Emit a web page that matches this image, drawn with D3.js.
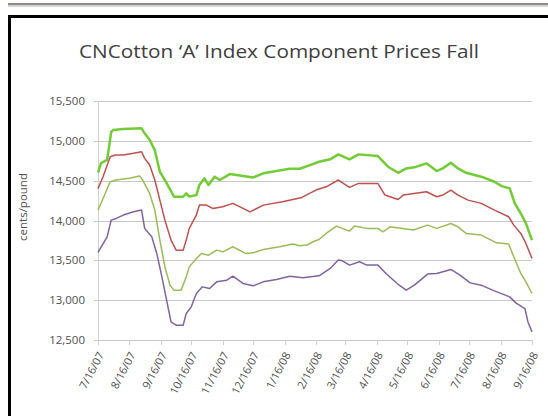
<!DOCTYPE html>
<html><head><meta charset="utf-8">
<script src="https://cdn.jsdelivr.net/npm/d3@7"></script>
<style>body{margin:0;background:#fff}svg{display:block}</style>
</head><body>
<svg id="c" width="548" height="416"></svg>
<script>
const title = "CNCotton \u2018A\u2019 Index Component Prices Fall";
const yTitle = "cents/pound";
const yTicks = [12500,13000,13500,14000,14500,15000,15500];
const xTickLabels = ["7/16/07","8/16/07","9/16/07","10/16/07","11/16/07","12/16/07","1/16/08","2/16/08","3/16/08","4/16/08","5/16/08","6/16/08","7/16/08","8/16/08","9/16/08"];

const seriesA = [["2007-07-16",14600],["2007-07-19",14720],["2007-07-25",14760],["2007-07-29",15110],["2007-07-31",15136],["2007-08-10",15150],["2007-08-28",15157],["2007-08-31",15094],["2007-09-05",15010],["2007-09-10",14884],["2007-09-15",14612],["2007-09-21",14486],["2007-09-29",14298],["2007-10-08",14298],["2007-10-11",14340],["2007-10-14",14300],["2007-10-21",14319],["2007-10-24",14445],["2007-10-29",14529],["2007-11-02",14445],["2007-11-08",14550],["2007-11-13",14508],["2007-11-23",14583],["2007-12-16",14541],["2007-12-26",14592],["2008-01-21",14650],["2008-01-31",14650],["2008-02-10",14696],["2008-02-19",14737],["2008-03-01",14768],["2008-03-09",14830],["2008-03-20",14768],["2008-03-29",14830],["2008-04-17",14809],["2008-04-27",14675],["2008-05-07",14599],["2008-05-15",14654],["2008-05-23",14667],["2008-06-04",14717],["2008-06-14",14620],["2008-06-20",14654],["2008-06-28",14725],["2008-07-05",14654],["2008-07-13",14599],["2008-07-28",14550],["2008-08-10",14486],["2008-08-17",14432],["2008-08-25",14403],["2008-08-30",14215],["2008-09-05",14088],["2008-09-10",13964],["2008-09-16",13754]];

const seriesB = [["2007-07-16",14400],["2007-07-21",14549],["2007-07-28",14800],["2007-08-02",14822],["2007-08-10",14822],["2007-08-20",14843],["2007-08-28",14863],["2007-08-31",14780],["2007-09-05",14696],["2007-09-10",14508],["2007-09-15",14256],["2007-09-20",14005],["2007-09-26",13754],["2007-10-01",13628],["2007-10-08",13628],["2007-10-11",13754],["2007-10-14",13901],["2007-10-21",14068],["2007-10-24",14193],["2007-10-31",14193],["2007-11-06",14152],["2007-11-16",14173],["2007-11-26",14215],["2007-12-13",14109],["2007-12-26",14193],["2008-01-14",14235],["2008-02-01",14285],["2008-02-16",14382],["2008-02-26",14423],["2008-03-09",14508],["2008-03-20",14416],["2008-03-29",14466],["2008-04-17",14466],["2008-04-24",14319],["2008-05-07",14264],["2008-05-12",14319],["2008-06-04",14361],["2008-06-14",14298],["2008-06-20",14319],["2008-06-28",14382],["2008-07-05",14319],["2008-07-15",14256],["2008-07-28",14215],["2008-08-10",14131],["2008-08-24",14047],["2008-08-29",13942],["2008-09-05",13838],["2008-09-10",13712],["2008-09-16",13524]];

const seriesC = [["2007-07-16",14130],["2007-07-21",14277],["2007-07-28",14486],["2007-08-03",14508],["2007-08-16",14529],["2007-08-26",14558],["2007-08-29",14508],["2007-09-05",14340],["2007-09-10",14131],["2007-09-15",13754],["2007-09-20",13418],["2007-09-25",13188],["2007-09-29",13126],["2007-10-06",13126],["2007-10-11",13292],["2007-10-14",13418],["2007-10-21",13524],["2007-10-26",13585],["2007-11-02",13565],["2007-11-10",13628],["2007-11-16",13607],["2007-11-26",13670],["2007-12-09",13585],["2007-12-16",13594],["2007-12-26",13636],["2008-01-11",13670],["2008-01-24",13704],["2008-01-31",13682],["2008-02-07",13691],["2008-02-13",13733],["2008-02-19",13762],["2008-02-26",13838],["2008-03-07",13930],["2008-03-13",13901],["2008-03-20",13867],["2008-03-25",13930],["2008-04-06",13901],["2008-04-17",13901],["2008-04-22",13858],["2008-04-29",13921],["2008-05-22",13880],["2008-06-05",13942],["2008-06-14",13901],["2008-06-28",13963],["2008-07-05",13921],["2008-07-13",13838],["2008-07-28",13817],["2008-08-12",13720],["2008-08-24",13704],["2008-08-29",13544],["2008-09-05",13335],["2008-09-10",13230],["2008-09-16",13084]];

const seriesD = [["2007-07-16",13600],["2007-07-25",13795],["2007-07-29",14005],["2007-08-03",14026],["2007-08-10",14068],["2007-08-20",14109],["2007-08-28",14131],["2007-08-31",13901],["2007-09-07",13795],["2007-09-12",13585],["2007-09-17",13292],["2007-09-21",13041],["2007-09-26",12727],["2007-10-01",12686],["2007-10-08",12686],["2007-10-11",12833],["2007-10-16",12916],["2007-10-21",13084],["2007-10-27",13167],["2007-11-03",13147],["2007-11-10",13230],["2007-11-20",13251],["2007-11-26",13301],["2007-12-06",13210],["2007-12-16",13180],["2007-12-26",13230],["2008-01-08",13260],["2008-01-21",13301],["2008-02-03",13280],["2008-02-19",13305],["2008-03-01",13398],["2008-03-09",13503],["2008-03-13",13494],["2008-03-20",13440],["2008-03-30",13482],["2008-04-06",13440],["2008-04-17",13440],["2008-04-25",13335],["2008-05-08",13188],["2008-05-15",13126],["2008-05-23",13188],["2008-06-05",13327],["2008-06-14",13335],["2008-06-28",13386],["2008-07-07",13314],["2008-07-17",13217],["2008-07-28",13188],["2008-08-08",13126],["2008-08-15",13092],["2008-08-25",13041],["2008-08-31",12966],["2008-09-09",12895],["2008-09-12",12727],["2008-09-16",12602]];

const parseISO = d3.timeParse("%Y-%m-%d");
const parseLbl = d3.timeParse("%m/%d/%y");
const svg = d3.select("#c");
const font = "'Open Sans', 'Noto Sans', sans-serif";

// frame decorations
svg.append("rect").attr("x",8).attr("y",3).attr("width",540).attr("height",2).attr("fill","#8c8c8c");
svg.append("rect").attr("x",8).attr("y",5).attr("width",540).attr("height",2).attr("fill","#d6d4cc");
svg.append("rect").attr("x",9.5).attr("y",16.5).attr("width",560).attr("height",420)
  .attr("fill","none").attr("stroke","#000").attr("stroke-width",3);

const x = d3.scaleTime().domain([parseLbl(xTickLabels[0]), parseLbl(xTickLabels[xTickLabels.length-1])]).range([98,532]);
const y = d3.scaleLinear().domain([12500,15500]).range([340,101]);

// gridlines
svg.append("g").selectAll("line").data(yTicks).join("line")
  .attr("x1",94).attr("x2",532).attr("y1",d=>Math.round(y(d))+0.5).attr("y2",d=>Math.round(y(d))+0.5)
  .attr("stroke","#c8c8c8").attr("stroke-width",1.2);
// y axis line
svg.append("line").attr("x1",98.5).attr("x2",98.5).attr("y1",101).attr("y2",344).attr("stroke","#d0d0d0");

// y tick labels
svg.append("g").selectAll("text").data(yTicks).join("text")
  .attr("x",85).attr("y",d=>y(d)).attr("dy","0.35em").attr("text-anchor","end")
  .attr("font-family",font).attr("font-size",11.5).attr("fill","#505050")
  .text(d3.format(","));

// x axis ticks & labels
const xDates = xTickLabels.map(parseLbl);
svg.append("g").selectAll("line").data(xDates).join("line")
  .attr("x1",d=>Math.round(x(d))+0.5).attr("x2",d=>Math.round(x(d))+0.5).attr("y1",340).attr("y2",345)
  .attr("stroke","#d0d0d0");
svg.append("g").selectAll("text").data(xTickLabels).join("text")
  .attr("transform",(d,i)=>`translate(${x(xDates[i])+3},${353}) rotate(-62)`)
  .attr("text-anchor","end").attr("dy","0.35em")
  .attr("font-family",font).attr("font-size",11).attr("fill","#505050")
  .text(d=>d);

// y title
svg.append("text").attr("transform","translate(27,207) rotate(-90)").attr("text-anchor","middle")
  .attr("font-family",font).attr("font-size",11.5).attr("fill","#505050").text(yTitle);

// title
svg.append("text").attr("x",279).attr("y",58).attr("text-anchor","middle")
  .attr("font-family",font).attr("font-size",18).attr("fill","#404040")
  .attr("textLength",400).attr("lengthAdjust","spacingAndGlyphs").text(title);

const line = d3.line().x(d=>x(parseISO(d[0]))).y(d=>y(d[1]));
const defs = [[seriesD,"#8064A2",1.5],[seriesC,"#9BBB59",1.5],[seriesB,"#C0504D",1.5],[seriesA,"#72CC36",2.5]];
defs.forEach(([s,c,w])=>{
  svg.append("path").datum(s).attr("d",line).attr("fill","none").attr("stroke",c)
    .attr("stroke-width",w).attr("stroke-linejoin","round");
});
</script>
</body></html>
